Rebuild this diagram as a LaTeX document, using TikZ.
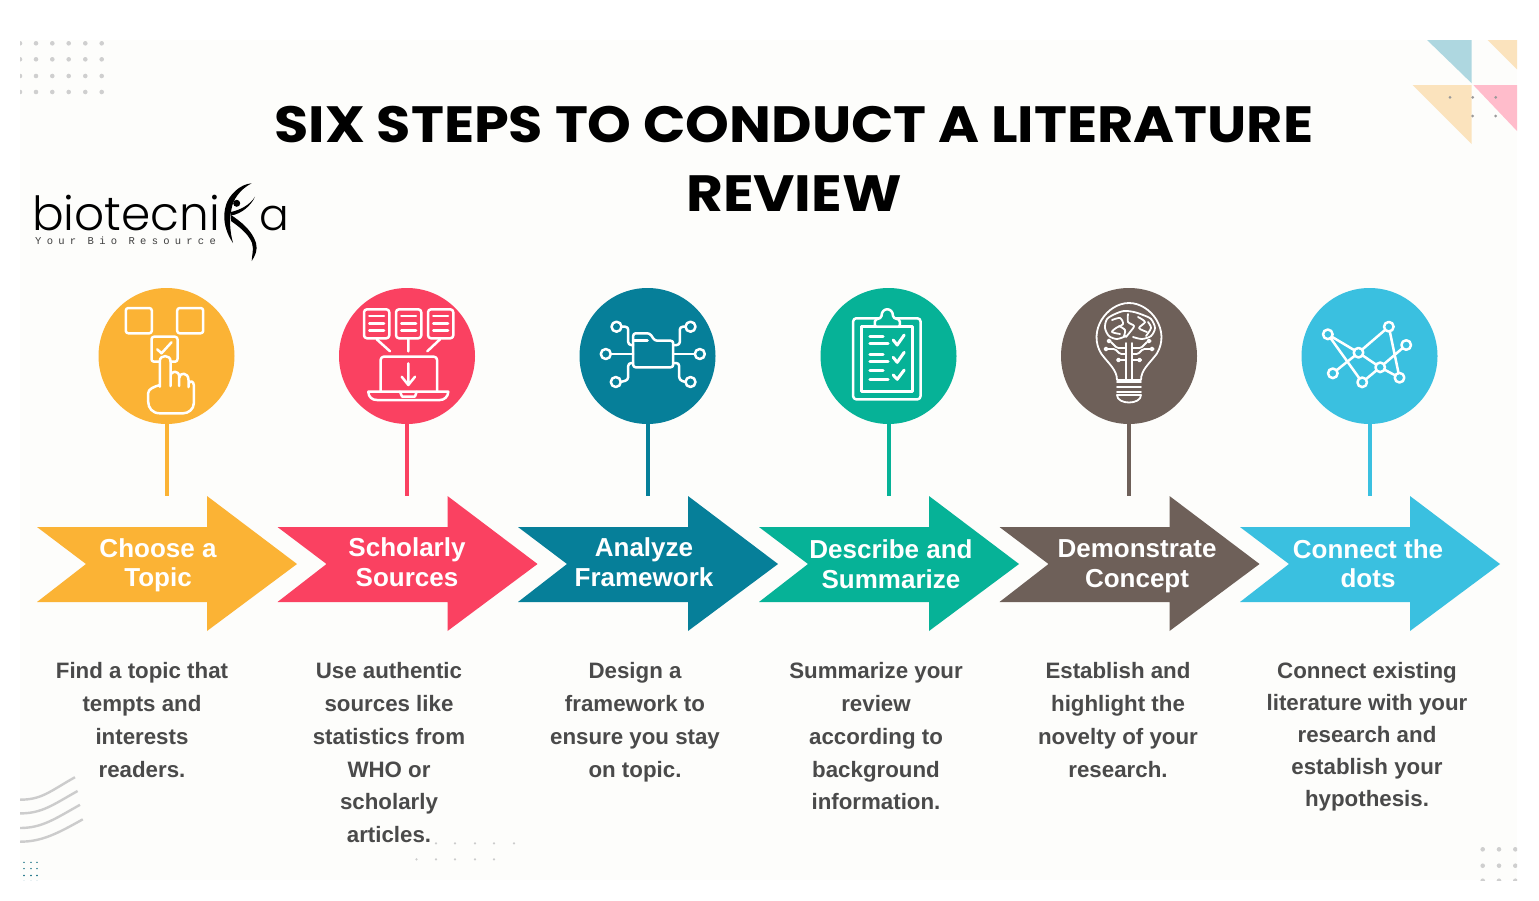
\documentclass[tikz,border=0pt]{standalone}
\usepackage{graphicx}
\usepackage{fontspec}
\setmainfont{Liberation Sans}
\newfontfamily\titlefont{Poppins}
\newfontfamily\logofont{Poppins Light}
\newfontfamily\tagfont[LetterSpace=50]{Liberation Mono}
\definecolor{panel}{HTML}{FDFDFB}
\definecolor{cA}{HTML}{FBB335}
\definecolor{cB}{HTML}{FA4161}
\definecolor{cC}{HTML}{067F99}
\definecolor{cD}{HTML}{06B297}
\definecolor{cE}{HTML}{6E6059}
\definecolor{cF}{HTML}{3AC0E0}
\definecolor{bodytext}{HTML}{4A4A4A}
\definecolor{dotgrey}{HTML}{CFCFCF}
\tikzset{
  ico/.style={draw=white,line width=2.5pt,line cap=round,line join=round},
  disc/.style={circle,minimum size=136pt,inner sep=0pt,fill=#1},
  pole/.style={draw=#1,line width=4pt},
  band/.style={fill=#1},
  arrowlabel/.style={text=white,align=center,font=\fontsize{26}{29.5}\selectfont\bfseries},
  bodylabel/.style={text=bodytext,align=center,anchor=north,font=\fontsize{22.3}{32.8}\selectfont\bfseries},
}
% #1 colour #2 left x of arrow #3 pole x #4 label x #5 label y #6 label #7 name
\newcommand{\stepunit}[7]{%
  \node[disc=#1] (c#7) at (#3,356) {};
  \coordinate (p#7) at (#3,496);
  \draw[pole=#1] (c#7.south) -- (p#7);
  \fill[band=#1] (#2,527) -- ++(170,0) -- ++(0,-31) -- ++(90,68) -- ++(-90,67) -- ++(0,-29) -- ++(-170,0) -- ++(49,-38) -- cycle;
  \node[arrowlabel] (a#7) at (#4,#5) {#6};
}
\begin{document}
\begin{tikzpicture}[x=1pt,y=-1pt]
\useasboundingbox (0,0) rectangle (1539,900);
\fill[white] (0,0) rectangle (1539,900);
\fill[panel] (20,40) rectangle (1517,880);

% decorations
\begin{scope}
\clip (20,40) rectangle (1517,880);
\foreach \x in {20,36,52.3,68.7,85.3,101.7}
  \foreach \y in {43.3,59.3,76,92}
    \fill[dotgrey] (\x,\y) circle (2.3pt);
\foreach \x in {1482.7,1499,1515.3}
  \foreach \y in {849.3,865.7,880.7}
    \fill[dotgrey] (\x,\y) circle (2.3pt);
\fill[color={rgb,255:red,174;green,215;blue,224}] (1426,39) -- (1471.7,39) -- (1471.7,83.3) -- cycle;
\fill[color={rgb,255:red,251;green,227;blue,189}] (1486.7,39) -- (1517,39) -- (1517,69.3) -- cycle;
\fill[color={rgb,255:red,251;green,227;blue,189}] (1412.7,85) -- (1471.7,85) -- (1471.7,144) -- cycle;
\fill[color={rgb,255:red,255;green,188;blue,203}] (1473.3,85) -- (1517,85) -- (1517,131) -- cycle;
\foreach \x/\y in {1450/97.3,1472.7/97.3,1495.7/97.3,1472.7/116,1495.7/116}
  \fill[black!40] (\x,\y) circle (1.5pt);
\foreach \ya/\xb/\yb in {799.7/75/777.2,813.4/77.6/791,828/80/804.8,841.7/82.8/819.3}
  \draw[black!20,line width=2.4pt] (20,\ya) .. controls (42,\ya) and ({\xb-25},{\yb+14}) .. (\xb,\yb);
\foreach \x in {24,31,37}
  \foreach \y in {862.4,868.6,875.5,881.4}
    \fill[cC!80!black] (\x,\y) circle (0.8pt);
\foreach \x in {436,455,475,494,514}
  \fill[black!20] (\x,843.4) circle (1.2pt);
\foreach \x in {416.5,436,455,475,494}
  \fill[black!20] (\x,859.3) circle (1.2pt);
\end{scope}

% title
\node[font=\fontsize{51}{69}\selectfont\titlefont\bfseries,text=black,align=center] (title) at (794,159)
  {\scalebox{1.092}[1]{SIX STEPS TO CONDUCT A LITERATURE}\\\scalebox{1.11}[1]{REVIEW}};

% logo
\node[font=\fontsize{47}{47}\selectfont\logofont,text=black,anchor=base west,inner sep=0pt] (logoA) at (32,230) {biotecni};
\node[font=\fontsize{44}{44}\selectfont\logofont,text=black,anchor=base west,inner sep=0pt] (logoB) at (259,230) {a};
\node[font=\fontsize{10.5}{12}\selectfont\tagfont,text=black!75,anchor=base west,inner sep=0pt] (logoC) at (35,244) {Your Bio Resource};
% figure in the logo
\fill[black] (251.7,183.3) .. controls (240,184) and (229,195) .. (226,205) .. controls (223,215) and (223,228) .. (233,243)
  .. controls (230,232) and (229,220) .. (231.7,208) .. controls (233,200) and (240,189) .. (251.7,183.3) -- cycle;
\fill[black] (231,215) .. controls (240,221) and (252,230) .. (256,243) .. controls (258,250) and (255,256) .. (251.7,261)
  .. controls (252,254) and (254,250) .. (252,243) .. controls (248,233) and (238,226) .. (231,221) -- cycle;
\fill[black] (231,215.5) .. controls (241,214) and (251,206) .. (255,196.7) .. controls (250,205) and (240,210) .. (231,212) -- cycle;
\fill[black] (236.7,203.3) circle (3.5pt);

% steps
\stepunit{cA}{37}{166.5}{158}{565.5}{Choose a\\Topic}{1}
\stepunit{cB}{277.5}{407}{407}{562}{Scholarly\\Sources}{2}
\stepunit{cC}{518}{647.5}{644}{562}{Analyze\\Framework}{3}
\stepunit{cD}{759}{888.5}{891}{564}{Describe and\\Summarize}{4}
\stepunit{cE}{999.5}{1129}{1137}{566}{Demonstrate\\Concept}{5}
\stepunit{cF}{1240}{1369.5}{1368}{563.5}{Connect the\\dots}{6}

% body text
\node[bodylabel] (t1) at (142,659) {Find a topic that\\tempts and\\interests\\readers.};
\node[bodylabel] (t2) at (389,659) {Use authentic\\sources like\\statistics from\\WHO or\\scholarly\\articles.};
\node[bodylabel] (t3) at (635,659) {Design a\\framework to\\ensure you stay\\on topic.};
\node[bodylabel] (t4) at (876,659) {Summarize your\\review\\according to\\background\\information.};
\node[bodylabel] (t5) at (1118,659) {Establish and\\highlight the\\novelty of your\\research.};
\node[bodylabel,font=\fontsize{22.3}{32}\selectfont\bfseries] (t6) at (1367,659) {Connect existing\\literature with your\\research and\\establish your\\hypothesis.};

% icon 1
\begin{scope}[shift={(166.5,356)},ico]
\draw[rounded corners=2.5pt] (-40.7,-48) rectangle (-14.7,-22.7);
\draw[rounded corners=2.5pt] (10.7,-48) rectangle (36.7,-22.7);
\draw[rounded corners=2.5pt] (-6.7,5.7) -- (-15,5.7) -- (-15,-19.3) -- (11,-19.3) -- (11,5.7) -- (4,5.7);
\draw (-9.3,-6.7) -- (-5,-2.7) -- (5,-13.7);
\draw (-6.7,30.7) -- (-6.7,5) .. controls (-6.7,-1.5) and (4,-1.5) .. (4,5) -- (4,30)
  (4,20.7) .. controls (4,14) and (12.7,14) .. (12.7,20.7) -- (12.7,30)
  (12.7,22) .. controls (12.7,16) and (22,16) .. (22,24) -- (22,31)
  (22,28) .. controls (23,24) and (27.3,25) .. (27.3,29) -- (27.3,47.3) .. controls (27.3,53) and (22,57.3) .. (16.7,57.3) -- (-6.7,57.3)
  .. controls (-14,57.3) and (-18.3,52) .. (-18.3,45.7) -- (-18.3,37) .. controls (-18.3,33) and (-12,30.5) .. (-6.7,29);
\end{scope}

% icon 2
\begin{scope}[shift={(407,356)},ico]
\foreach \dx in {-43,-11,21} {
  \draw[rounded corners=3pt] (\dx,-46.7) rectangle ({\dx+25.3},-17.7);
  \foreach \yy in {-40,-32.7,-25.3}
    \draw ({\dx+5.3},\yy) -- ({\dx+20},\yy);
}
\draw (-30.3,-16.7) -- (-17,-4.7) (1.3,-16.7) -- (1.3,-4.7) (33,-16.7) -- (20.3,-4.7);
\draw[rounded corners=3pt] (-26.3,35) -- (-26.3,0.7) -- (30,0.7) -- (30,35);
\draw (1.3,7.3) -- (1.3,29) (-5.3,20.7) -- (1.3,29) -- (8,20.7);
\draw (-38.7,35.7) -- (41.3,35.7) .. controls (41,41) and (37,44) .. (33,44) -- (-30,44) .. controls (-35,44) and (-38.5,41) .. (-38.7,35.7) -- cycle;
\draw (-7,35.7) -- (-5,40.5) -- (8,40.5) -- (9.7,35.7);
\end{scope}

% icon 3
\begin{scope}[shift={(647.5,356)},ico]
\draw[rounded corners=2.5pt] (-14.3,11.3) -- (-14.3,-22.7) -- (2.3,-22.7) -- (7.3,-15.3) -- (25.7,-15.3) -- (25.7,11.3) -- cycle;
\draw (-14.3,-15.3) -- (0,-15.3) ;
\foreach \x/\y in {-31/-29.3,43/-29.3,-41.7/-2,52.3/-2,-31.7/26,43/26}
  \draw (\x,\y) circle (5pt);
\draw[rounded corners=3pt] (-26,-29.3) -- (-19.3,-29.3) -- (-19.3,-11) -- (-14.3,-11);
\draw (-36.7,-2) -- (-14.3,-2);
\draw[rounded corners=3pt] (-27,26) -- (-19.3,24) -- (-19.3,7) -- (-14.3,7);
\draw[rounded corners=3pt] (38,-29.3) -- (32.3,-29.3) -- (32.3,-11) -- (25.7,-11);
\draw (25.7,-2) -- (47.3,-2);
\draw[rounded corners=3pt] (25.7,7) -- (31.7,7) -- (31.7,24) -- (38,26);
\end{scope}

% icon 4
\begin{scope}[shift={(888.5,356)},ico]
\draw[rounded corners=3pt] (-35.3,-37.7) rectangle (32,43.3);
\draw (-27,-29.3) rectangle (24,35.7);
\draw[fill=cD,rounded corners=1.5pt] (-13.7,-29.3) -- (-13.7,-36) -- (-7,-38.5) .. controls (-7,-49) and (4.5,-49) .. (4.5,-38.5) -- (11.3,-36) -- (11.3,-29.3) -- cycle;
\begin{scope}[line width=3pt]
\draw (-18.7,-19.3) -- (-5.3,-19.3) (-18.7,-12.7) -- (-0.3,-12.7)
      (-18.7,-2) -- (-5.3,-2) (-18.7,5.7) -- (-0.3,5.7)
      (-18.7,14) -- (-5.3,14) (-18.7,23.3) -- (-0.3,23.3);
\draw (4.7,-16) -- (8.7,-11) -- (15.7,-21)
      (4.7,1.3) -- (8.7,6.3) -- (15.7,-3.7)
      (4.7,19) -- (8.7,23.3) -- (15.7,14);
\end{scope}
\end{scope}

% icon 5
\begin{scope}[shift={(1129,356)},ico,line width=1.8pt]
\draw (-12,24) .. controls (-12,14) and (-20,8) .. (-27.6,-2) .. controls (-42,-25) and (-22,-53) .. (0,-53)
  .. controls (22,-53) and (42,-25) .. (27.6,-2) .. controls (20,8) and (12,14) .. (12,24) -- cycle;
\draw (-12,25.7) -- (12,25.7) (-12,30.7) -- (12,30.7) (-12,35.7) -- (12,35.7);
\draw (-12,39) .. controls (-12,49) and (12,49) .. (12,39) -- cycle;
\draw (-3,24) -- (-3,-13) (3,24) -- (3,-13);
\draw plot[smooth] coordinates {(-3,-20) (-12,-17) (-20,-20) (-24,-28) (-22,-37) (-14,-42) (-5,-45) (5,-44) (14,-41) (22,-37) (26,-28) (22,-20) (13,-17) (4,-19)};
\draw plot[smooth] coordinates {(-17,-36) (-9,-38) (-6,-32) (-13,-28) (-17,-24) (-9,-22)};
\draw plot[smooth] coordinates {(-1,-42) (-1,-34) (5,-30) (1,-24) (-3,-19)};
\draw plot[smooth] coordinates {(9,-39) (16,-34) (10,-28) (18,-24)};
\draw plot[smooth] coordinates {(19,-34) (22,-28) (17,-20)};
\draw plot[smooth] coordinates {(-10,-30) (-4,-26) (-5,-20)};
\draw[rounded corners=1.5pt] (-3,-8) -- (-12,-8) -- (-18,-14) (-3,-2) -- (-9,-2) -- (-14,-7) -- (-21,-7) (-3,4) -- (-9,4);
\draw[rounded corners=1.5pt] (3,-8) -- (12,-8) -- (18,-14) (3,-2) -- (9,-2) -- (14,-7) -- (21,-7) (3,4) -- (9,4);
\foreach \x/\y in {-20/-15,-23/-7,-10.5/4,20/-15,23/-7,10.5/4}
  \draw (\x,\y) circle (1.6pt);
\end{scope}

% icon 6
\begin{scope}[shift={(1369.5,356)},ico]
\coordinate (n1) at (-41.7,-21.7);
\coordinate (n2) at (19.3,-29.3);
\coordinate (n3) at (36.7,-11);
\coordinate (n4) at (-11,-3.3);
\coordinate (n5) at (10.7,11.3);
\coordinate (n6) at (-36.7,17.3);
\coordinate (n7) at (-7.3,26.3);
\coordinate (n8) at (30,21.7);
\draw (n1) -- (n4) (n1) -- (n7) (n4) -- (n2) (n4) -- (n5) (n5) -- (n7) (n5) -- (n3) (n5) -- (n8) (n2) -- (n8) (n6) -- (n4);
\foreach \n in {n1,n2,n3,n4,n5,n6,n7,n8}
  \draw[fill=cF] (\n) circle (4.8pt);
\end{scope}
\end{tikzpicture}
\end{document}
